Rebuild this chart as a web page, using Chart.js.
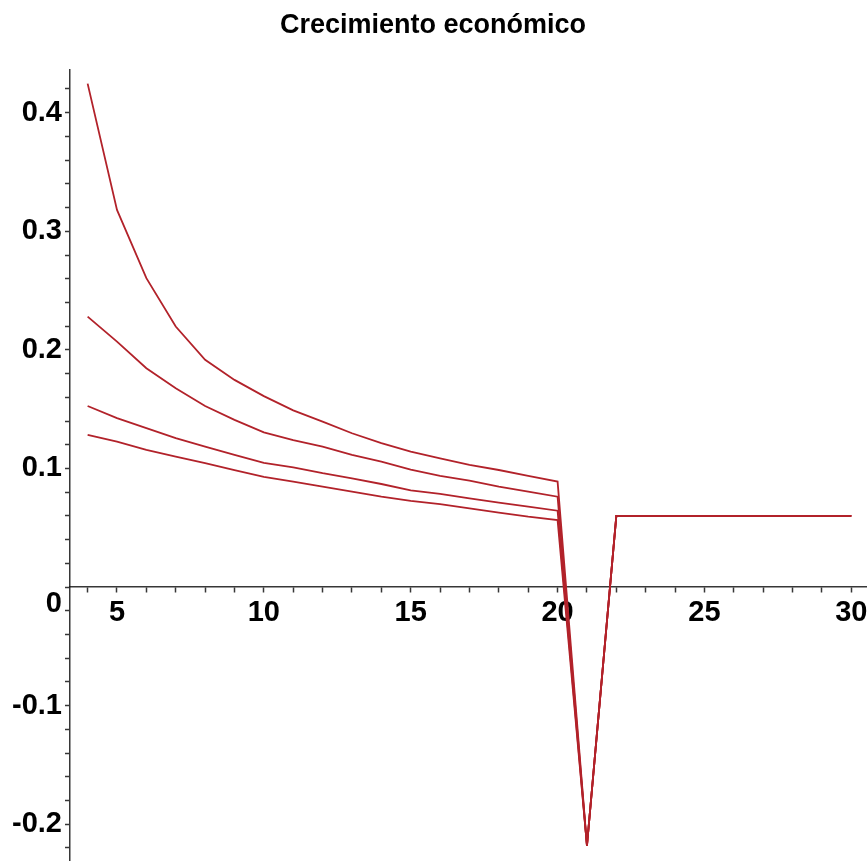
<!DOCTYPE html>
<html>
<head>
<meta charset="utf-8">
<script src="https://cdn.jsdelivr.net/npm/chart.js@4/dist/chart.umd.min.js"></script>
<style>
  html, body { margin: 0; padding: 0; background: #fff; }
  #wrap { width: 867px; height: 861px; position: relative; }
</style>
</head>
<body>
<div id="wrap"><canvas id="c"></canvas></div>
<script>
const titleText = 'Crecimiento económico';
const xValues = [4,5,6,7,8,9,10,11,12,13,14,15,16,17,18,19,20,21,22,23,24,25,26,27,28,29,30];
const serie1 = [0.4245,0.318,0.2605,0.2197,0.1916,0.1747,0.161,0.149,0.1395,0.1297,0.1213,0.1142,0.1086,0.103,0.0987,0.0937,0.0889,-0.218,0.06,0.06,0.06,0.06,0.06,0.06,0.06,0.06,0.06];
const serie2 = [0.228,0.207,0.1845,0.1677,0.1527,0.141,0.1305,0.124,0.1184,0.1114,0.1057,0.0990,0.0937,0.0897,0.0846,0.0804,0.0762,-0.218,0.06,0.06,0.06,0.06,0.06,0.06,0.06,0.06,0.06];
const serie3 = [0.1527,0.1424,0.134,0.1255,0.1184,0.1114,0.1047,0.101,0.096,0.0917,0.0869,0.0816,0.0785,0.0748,0.0712,0.0678,0.0644,-0.218,0.06,0.06,0.06,0.06,0.06,0.06,0.06,0.06,0.06];
const serie4 = [0.1283,0.1226,0.1156,0.110,0.1044,0.0987,0.093,0.0889,0.0846,0.0804,0.0762,0.0727,0.070,0.0664,0.0627,0.0593,0.0565,-0.218,0.06,0.06,0.06,0.06,0.06,0.06,0.06,0.06,0.06];
const xTickLabels = [5,10,15,20,25,30];
const yTickLabels = [-0.2,-0.1,0,0.1,0.2,0.3,0.4];

const lineColor = 'rgb(178,34,42)';
const axisColor = 'rgba(20,20,20,0.85)';
const tickFont = { family: "'Liberation Sans', Arial, sans-serif", size: 29, weight: 'bold' };

function toPoints(arr) { return xValues.map((x, i) => ({ x: x, y: arr[i] })); }
const series = [serie1, serie2, serie3, serie4];

new Chart(document.getElementById('c'), {
  type: 'line',
  data: {
    datasets: series.map(s => ({
      data: toPoints(s),
      borderColor: lineColor,
      borderWidth: 1.8,
      pointRadius: 0,
      tension: 0,
      fill: false
    }))
  },
  options: {
    responsive: true,
    maintainAspectRatio: false,
    animation: false,
    layout: { padding: { top: 0, right: 1, bottom: 0, left: 0 } },
    plugins: {
      legend: { display: false },
      tooltip: { enabled: false },
      title: {
        display: true,
        text: titleText,
        color: '#000',
        font: { family: "'Liberation Sans', Arial, sans-serif", size: 27, weight: 'bold', lineHeight: 1.2 },
        padding: { top: 9.5, bottom: 28.1 }
      }
    },
    scales: {
      x: {
        type: 'linear',
        position: { y: 0 },
        min: 3.4,
        max: 30.5,
        afterFit: (s) => { s.height = 0; s.paddingLeft = 0; s.paddingRight = 0; s.paddingTop = 0; s.paddingBottom = 0; },
        border: { display: true, color: axisColor, width: 1.5 },
        grid: { drawOnChartArea: false, drawTicks: true, tickLength: 5, tickColor: axisColor, tickWidth: 1.5 },
        ticks: {
          stepSize: 1,
          includeBounds: false,
          maxTicksLimit: 1000,
          autoSkip: false,
          maxRotation: 0,
          padding: 4,
          color: '#000',
          font: tickFont,
          callback: (v) => xTickLabels.some(t => Math.abs(t - v) < 1e-6) ? String(Math.round(v)) : ''
        }
      },
      y: {
        type: 'linear',
        position: 'left',
        min: -0.231,
        max: 0.436,
        afterFit: (s) => { s.width = 70; s.paddingTop = 0; s.paddingBottom = 0; s.paddingLeft = 0; s.paddingRight = 0; },
        border: { display: true, color: axisColor, width: 1.5 },
        grid: { drawOnChartArea: false, drawTicks: true, tickLength: 5, tickColor: axisColor, tickWidth: 1.5 },
        ticks: {
          stepSize: 0.02,
          includeBounds: false,
          maxTicksLimit: 1000,
          autoSkip: false,
          padding: 3,
          color: '#000',
          font: tickFont,
          callback: (v) => {
            const t = yTickLabels.find(l => Math.abs(l - v) < 1e-6);
            if (t === undefined) return '';
            return t === 0 ? ['', '0'] : t.toFixed(1);
          }
        }
      }
    }
  }
});
</script>
</body>
</html>
